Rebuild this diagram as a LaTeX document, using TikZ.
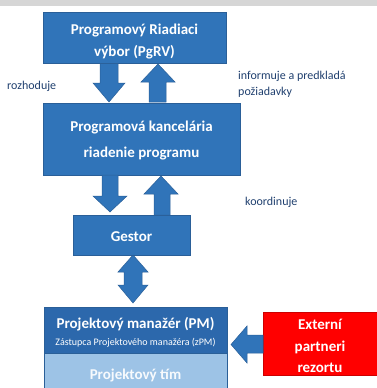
\documentclass[tikz,border=0pt]{standalone}
\usepackage{fontspec}
\setmainfont{Carlito}
\definecolor{boxblue}{HTML}{3074B9}
\definecolor{boxedge}{HTML}{2A5F98}
\definecolor{pmblue}{HTML}{2C68AC}
\definecolor{lightblue}{HTML}{9DC3E6}
\definecolor{labelc}{HTML}{1F3F6E}
\definecolor{bandgray}{HTML}{D6D6D6}
\definecolor{extred}{HTML}{FF0000}
\tikzset{
  bbox/.style={draw=boxedge, line width=0.6pt, fill=boxblue, inner sep=0pt},
  btext/.style={text=white, font=\bfseries\fontsize{15}{18}\selectfont, align=center, inner sep=0pt},
  barrow/.style={draw=boxedge, line width=0.5pt, fill=boxblue},
  lbl/.style={text=labelc, font=\fontsize{12}{14}\selectfont, align=left, anchor=west, inner sep=0pt}
}
\begin{document}
\begin{tikzpicture}[x=1pt,y=-1pt]
\useasboundingbox (0,0) rectangle (377,388);
\fill[bandgray] (0,0) rectangle (377,6);
% boxes
\node[bbox, minimum width=183pt, minimum height=51pt] (pgrv) at (134.5,37.5) {};
\node[btext] (pgrvt) at (134.5,41.5) {Programový Riadiaci\\[4pt]výbor (PgRV)};
\node[bbox, minimum width=197pt, minimum height=72pt] (pk) at (141.5,139) {};
\node[btext] (pkt) at (141.5,140.5) {Programová kancelária\\[8pt]riadenie programu};
\node[bbox, minimum width=117pt, minimum height=40pt] (gestor) at (131.5,235) {};
\node[btext] (gestort) at (131.5,237) {Gestor};
\node[bbox, fill=lightblue, minimum width=183pt, minimum height=40pt] (tim) at (135.5,373) {};
\node[btext, text=white!92!lightblue] (timt) at (135.5,375) {Projektový tím};
\node[bbox, fill=pmblue, minimum width=183pt, minimum height=46pt] (pm) at (135.5,330) {};
\node[btext] (pmt) at (135.5,332)
  {Projektový manažér (PM)\\[-1pt]{\mdseries\fontsize{10}{12}\selectfont Zástupca Projektového manažéra (zPM)}};
\node[bbox, draw=extred!80!black, fill=extred, minimum width=114pt, minimum height=63pt] (ext) at (320,343.5) {};
\node[btext] (extt) at (320,346) {Externí\\[4pt]partneri\\[3pt]rezortu};
% labels
\node[lbl] (l1) at (7,86) {rozhoduje};
\node[lbl] (l2) at (238,84) {informuje a predkladá\\[2pt]požiadavky};
\node[lbl] (l3) at (245,202) {koordinuje};
% arrows PgRV <-> PK
\draw[barrow] (100,63.5) -- (118,63.5) -- (118,83) -- (125,83) -- (109,102) -- (93,83) -- (100,83) -- cycle;
\draw[barrow] (149,102) -- (166,102) -- (166,82) -- (175,82) -- (158,64) -- (141,82) -- (149,82) -- cycle;
% arrows PK <-> Gestor
\draw[barrow] (102,175) -- (118,175) -- (118,196) -- (127,196) -- (110,212) -- (93,196) -- (102,196) -- cycle;
\draw[barrow] (154,215) -- (170,215) -- (170,194) -- (178,194) -- (161,176) -- (144,194) -- (154,194) -- cycle;
% double arrow Gestor <-> PM
\draw[barrow] (133,255) -- (148,272) -- (142,272) -- (142,285) -- (148,285) -- (133,303) -- (118,285) -- (124,285) -- (124,272) -- (118,272) -- cycle;
% arrow Ext -> PM
\draw[barrow] (263,335) -- (247,335) -- (247,326) -- (231,344.5) -- (247,363) -- (247,353) -- (263,353) -- cycle;
\end{tikzpicture}
\end{document}
